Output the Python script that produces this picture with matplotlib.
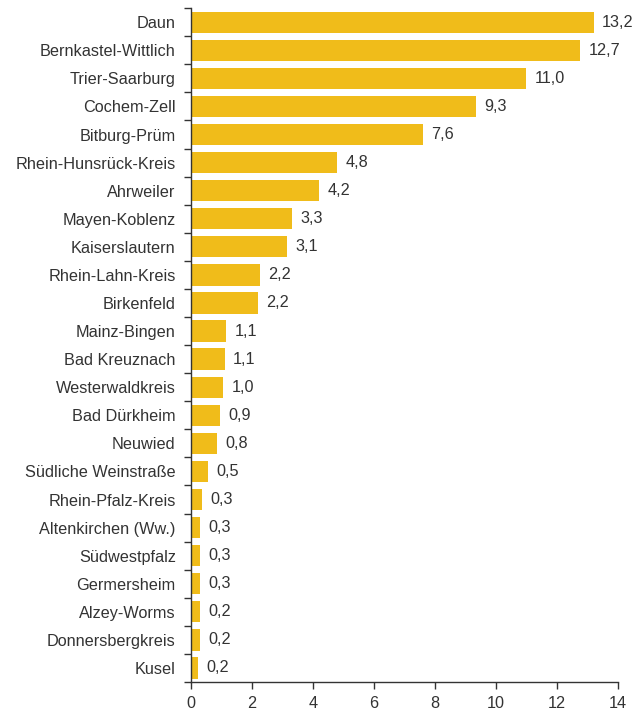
import matplotlib.pyplot as plt
import numpy as np

plt.rcParams['font.family'] = ['Liberation Sans', 'DejaVu Sans']

kreise = ['Daun', 'Bernkastel-Wittlich', 'Trier-Saarburg', 'Cochem-Zell', 'Bitburg-Prüm',
          'Rhein-Hunsrück-Kreis', 'Ahrweiler', 'Mayen-Koblenz', 'Kaiserslautern',
          'Rhein-Lahn-Kreis', 'Birkenfeld', 'Mainz-Bingen', 'Bad Kreuznach',
          'Westerwaldkreis', 'Bad Dürkheim', 'Neuwied', 'Südliche Weinstraße',
          'Rhein-Pfalz-Kreis', 'Altenkirchen (Ww.)', 'Südwestpfalz', 'Germersheim',
          'Alzey-Worms', 'Donnersbergkreis', 'Kusel']
werte = [13.2, 12.7, 11.0, 9.3, 7.6, 4.8, 4.2, 3.3, 3.1, 2.2, 2.2, 1.1, 1.1,
         1.0, 0.9, 0.8, 0.5, 0.3, 0.3, 0.3, 0.3, 0.2, 0.2, 0.2]
# bar lengths as drawn (slightly finer than the rounded labels)
laengen = [13.2, 12.75, 11.0, 9.35, 7.6, 4.8, 4.2, 3.3, 3.15, 2.25, 2.2, 1.15, 1.1,
           1.05, 0.95, 0.85, 0.55, 0.35, 0.3, 0.3, 0.3, 0.28, 0.28, 0.22]

txt = '#333333'
fs = 11.7
fig = plt.figure(figsize=(6.42, 7.13), dpi=100)
ax = fig.add_axes([0.2975, 0.0435, 0.665, 0.945])

y = np.arange(len(kreise))
ax.barh(y, laengen, height=0.76, color='#F0BC1A')
for yi, v, l in zip(y, werte, laengen):
    ax.text(l + 0.28, yi, f'{v:.1f}'.replace('.', ','), va='center', ha='left',
            fontsize=fs, color=txt)

ax.set_ylim(len(kreise) - 0.5, -0.5)
ax.set_xlim(0, 14)
ax.set_xticks(range(0, 15, 2))
ax.set_yticks(y)
ax.set_yticklabels(kreise)
ax.set_yticks(np.arange(-0.5, len(kreise)), minor=True)
ax.tick_params(axis='y', which='major', length=0, pad=11, labelsize=fs, labelcolor=txt)
ax.tick_params(axis='y', which='minor', length=5, width=1, color='#333333')
ax.tick_params(axis='x', length=5, width=1, color='#333333', labelsize=fs,
               labelcolor=txt, pad=5)
for s in ['top', 'right']:
    ax.spines[s].set_visible(False)
for s in ['left', 'bottom']:
    ax.spines[s].set_color('#333333')
    ax.spines[s].set_linewidth(1)

fig.savefig('out.png', dpi=100)
